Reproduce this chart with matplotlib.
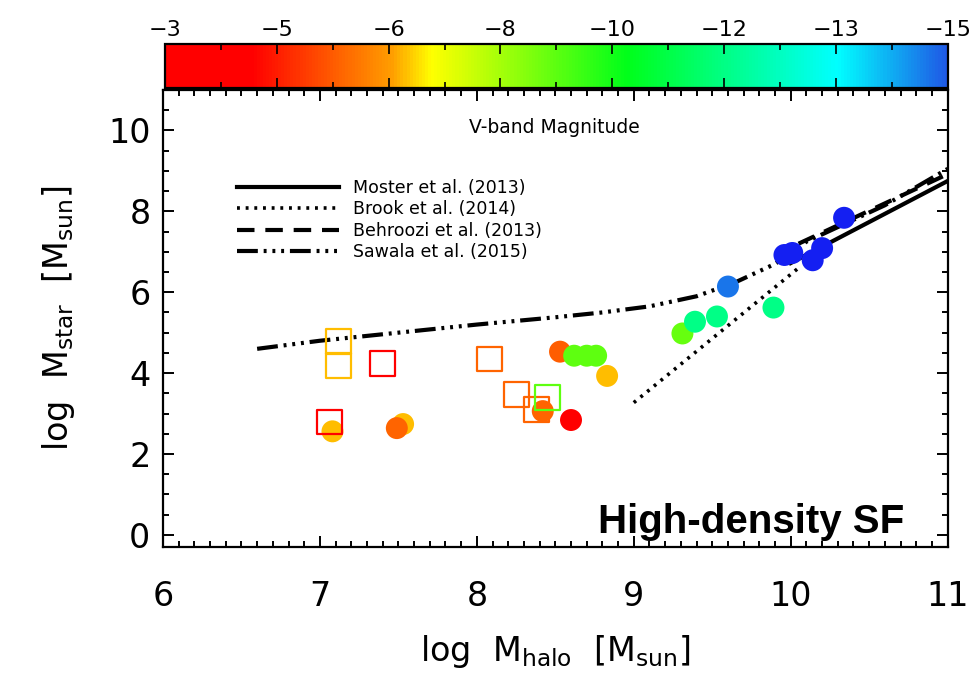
#!/usr/bin/env python3
import matplotlib
matplotlib.use('Agg')
import matplotlib.pyplot as plt
from matplotlib.colors import LinearSegmentedColormap, Normalize
from matplotlib.ticker import MultipleLocator, FixedLocator
import numpy as np

plt.rcParams['font.family'] = 'DejaVu Sans'

# colour scale for V-band magnitude (anchor magnitudes and colours)
cbar_mags = [-15.0, -13.32, -10.08, -7.08, -6.48, -4.32, -3.0]
cbar_cols = [(0.12, 0.35, 0.9), (0.0, 1.0, 1.0), (0.0, 1.0, 0.1),
             (1.0, 1.0, 0.0), (1.0, 0.62, 0.0), (1.0, 0.0, 0.0), (1.0, 0.0, 0.0)]
cbar_ticks = [-3, -4.714, -6.429, -8.143, -9.857, -11.571, -13.286, -15]
cbar_labels = ['−3', '−5', '−6', '−8', '−10', '−12', '−13', '−15']

# simulated galaxies, filled circles
circ_mhalo = [7.08, 7.53, 7.49, 8.42, 8.60, 8.53, 8.62, 8.70, 8.76, 8.83,
              9.31, 9.39, 9.53, 9.89, 9.60, 9.96, 10.01, 10.14, 10.20, 10.34]
circ_mstar = [2.56, 2.74, 2.64, 3.06, 2.84, 4.53, 4.43, 4.43, 4.43, 3.93,
              4.98, 5.27, 5.40, 5.62, 6.14, 6.92, 6.97, 6.79, 7.09, 7.84]
circ_mv = [-6.7, -6.7, -5.7, -5.7, -3.3, -5.6, -9.0, -9.0, -9.0, -6.7,
           -8.9, -11.6, -11.6, -11.6, -14.7, -16.0, -16.0, -16.0, -16.0, -16.0]

# open squares
sq_mhalo = [7.12, 7.12, 7.40, 7.06, 8.08, 8.25, 8.38, 8.45]
sq_mstar = [4.78, 4.19, 4.23, 2.79, 4.35, 3.48, 3.11, 3.40]
sq_mv = [-6.7, -6.7, -3.5, -3.5, -5.7, -5.7, -5.7, -9.0]

# abundance matching relations
moster_mh = [10.0, 11.0]
moster_ms = [6.72, 8.75]
brook_mh = [9.0, 10.05]
brook_ms = [3.27, 6.6]
behroozi_mh = [10.05, 11.0]
behroozi_ms = [7.2, 8.92]
sawala_mh = [6.6, 7.0, 7.5, 8.0, 8.5, 8.8, 9.1, 9.4, 9.65, 9.9, 10.1, 10.6, 11.0]
sawala_ms = [4.6, 4.8, 5.0, 5.2, 5.38, 5.5, 5.65, 5.9, 6.25, 6.7, 7.25, 8.15, 9.05]


def make_cmap():
    pos = [(m - cbar_mags[0]) / (cbar_mags[-1] - cbar_mags[0]) for m in cbar_mags]
    cmap = LinearSegmentedColormap.from_list('vmag', list(zip(pos, cbar_cols)))
    cmap.set_under((0.08, 0.12, 0.95))
    return cmap


def main():
    cmap = make_cmap()
    norm = Normalize(vmin=-15, vmax=-3)

    fig = plt.figure(figsize=(9.8, 6.74), dpi=100)
    ax = fig.add_axes([0.1663, 0.1884, 0.8007, 0.6781])
    cax = fig.add_axes([0.1684, 0.8694, 0.7986, 0.0653])

    ax.scatter(circ_mhalo, circ_mstar, c=circ_mv, cmap=cmap, norm=norm,
               s=250, marker='o', edgecolors='none', zorder=3)
    ax.scatter(sq_mhalo, sq_mstar, c='none', marker='s', s=320,
               edgecolors=cmap(norm(sq_mv)), linewidths=1.6, zorder=4)

    ax.plot(moster_mh, moster_ms, 'k-', lw=3, label='Moster et al. (2013)')
    ax.plot(brook_mh, brook_ms, 'k', lw=2.6, ls=(0, (0.8, 1.6)),
            label='Brook et al. (2014)')
    ax.plot(behroozi_mh, behroozi_ms, 'k', lw=3, ls=(0, (4.2, 2.6)),
            label='Behroozi et al. (2013)')
    ax.plot(sawala_mh, sawala_ms, 'k', lw=3,
            ls=(0, (5.0, 1.4, 0.7, 1.4, 0.7, 1.4, 0.7, 1.4)),
            label='Sawala et al. (2015)')

    ax.set_xlim(6, 11)
    ax.set_ylim(-0.3, 11)
    ax.xaxis.set_major_locator(MultipleLocator(1))
    ax.xaxis.set_minor_locator(MultipleLocator(0.1))
    ax.yaxis.set_major_locator(FixedLocator([0, 2, 4, 6, 8, 10]))
    ax.yaxis.set_minor_locator(MultipleLocator(0.5))
    ax.tick_params(which='both', direction='in', top=True, right=True, width=1.4)
    ax.tick_params(which='major', length=8, labelsize=24)
    ax.tick_params(which='minor', length=4)
    ax.tick_params(axis='x', pad=24)
    ax.tick_params(axis='y', pad=9)
    for sp in ax.spines.values():
        sp.set_linewidth(1.6)

    ax.set_xlabel(r'log  M$_{\rm halo}$  $\left[\mathrm{M}_{\rm sun}\right]$',
                  fontsize=24, labelpad=14)
    ax.set_ylabel(r'log  M$_{\rm star}$  $\left[\mathrm{M}_{\rm sun}\right]$',
                  fontsize=24, labelpad=22)

    ax.text(0.499, 0.917, 'V-band Magnitude', transform=ax.transAxes,
            ha='center', va='center', fontsize=13.5)
    ax.text(0.945, 0.055, 'High-density SF', transform=ax.transAxes,
            ha='right', va='center', fontsize=29, fontweight='bold',
            family='Liberation Sans')

    ax.legend(loc='upper left', bbox_to_anchor=(0.094, 0.806), frameon=False,
              fontsize=12.5, handlelength=5.9, handletextpad=0.8,
              labelspacing=0.2, borderpad=0, borderaxespad=0)

    cb = fig.colorbar(plt.cm.ScalarMappable(norm=norm, cmap=cmap), cax=cax,
                      orientation='horizontal')
    cax.invert_xaxis()
    cb.set_ticks(cbar_ticks)
    cb.set_ticklabels(cbar_labels)
    cax.xaxis.set_minor_locator(FixedLocator(
        [(cbar_ticks[i] + cbar_ticks[i + 1]) / 2 for i in range(len(cbar_ticks) - 1)]))
    cax.tick_params(which='both', direction='in', top=True, bottom=True,
                    labeltop=True, labelbottom=False, width=1.2)
    cax.tick_params(which='major', length=7, labelsize=16, pad=3)
    cax.tick_params(which='minor', length=4)
    cb.outline.set_linewidth(1.6)

    fig.savefig('out.png', dpi=100)


if __name__ == '__main__':
    main()
